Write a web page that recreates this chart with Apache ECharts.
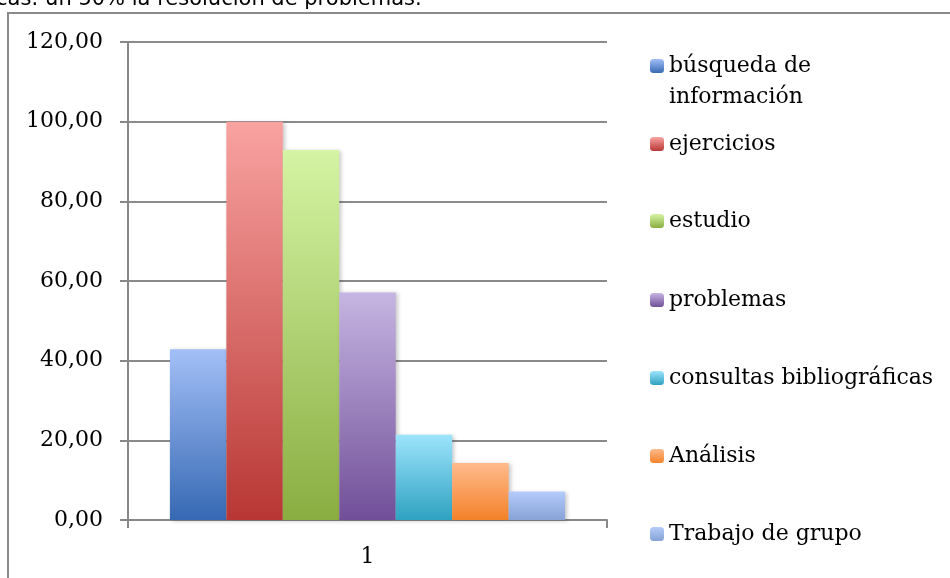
<!DOCTYPE html>
<html>
<head>
<meta charset="utf-8">
<script src="https://cdn.jsdelivr.net/npm/echarts@6/dist/echarts.min.js"></script>
<style>
  html, body { margin: 0; padding: 0; background: #fff; }
  #chart { width: 950px; height: 578px; }
</style>
</head>
<body>
<div id="chart"></div>
<script>
const categories = ['1']
const seriesNames = [
  'búsqueda de\ninformación',
  'ejercicios',
  'estudio',
  'problemas',
  'consultas bibliográficas',
  'Análisis',
  'Trabajo de grupo'
]
const seriesValues = [42.86, 100, 92.86, 57.14, 21.43, 14.29, 7.14]
const yTicks = { min: 0, max: 120, interval: 20 }

// top / bottom colours of each bar gradient
const colorsTop = ['#a3bff7', '#f9a3a1', '#d5f4a4', '#c6b5e2', '#9de4fc', '#ffba8c', '#b4ccfb']
const colorsBottom = ['#3669b3', '#b83734', '#8aad41', '#704f98', '#2ea2c1', '#f3822a', '#87a2d6']
const legendTops = [14.5, 123.5, 200.5, 279.5, 357.5, 435.5, 513.5]

const chart = echarts.init(document.getElementById('chart'))

const font = 'DejaVu Serif'

const series = seriesNames.map((name, i) => ({
  name: name,
  type: 'bar',
  barGap: '0%',
  barCategoryGap: '17.5%',
  data: [seriesValues[i]],
  itemStyle: {
    color: new echarts.graphic.LinearGradient(0, 0, 0, 1, [
      { offset: 0, color: colorsTop[i] },
      { offset: 1, color: colorsBottom[i] }
    ]),
    shadowColor: 'rgba(0,0,0,0.22)',
    shadowBlur: 4,
    shadowOffsetX: 2,
    shadowOffsetY: 1
  },
  emphasis: { disabled: true }
}))

// one legend per item so the spacing can follow the reference
const legends = seriesNames.map((name, i) => ({
  orient: 'vertical',
  left: 645,
  top: legendTops[i],
  itemWidth: 14,
  itemHeight: 14,
  itemGap: 0,
  data: [name],
  // leading blank line keeps the icon beside the first text line
  formatter: n => (n.indexOf('\n') >= 0 ? '\n' + n : n),
  textStyle: { fontFamily: font, fontSize: 22, color: '#000', lineHeight: 31 },
  selectedMode: false
}))

const option = {
  animation: false,
  grid: { left: 128, right: 343, top: 42, bottom: 58 },
  legend: legends,
  graphic: [
    {
      type: 'rect',
      shape: { x: 8, y: 13, width: 1000, height: 1000 },
      style: { fill: 'none', stroke: '#8a8a8a', lineWidth: 2 },
      z: -1
    },
    {
      type: 'text',
      left: -4,
      top: -11,
      style: {
        text: 'cas: un 50% la resolución de problemas.',
        fontFamily: 'DejaVu Sans',
        fontSize: 21,
        fill: '#000'
      }
    }
  ],
  xAxis: {
    type: 'category',
    data: categories,
    axisLine: { lineStyle: { color: '#888', width: 2 } },
    axisTick: { show: true, length: 8, lineStyle: { color: '#888', width: 2 } },
    axisLabel: { fontFamily: font, fontSize: 22, color: '#000', margin: 26 }
  },
  yAxis: {
    type: 'value',
    min: yTicks.min,
    max: yTicks.max,
    interval: yTicks.interval,
    axisLine: { show: true, lineStyle: { color: '#888', width: 2 } },
    axisTick: { show: true, length: 8, lineStyle: { color: '#888', width: 2 } },
    splitLine: { lineStyle: { color: '#8a8a8a', width: 2 } },
    axisLabel: {
      fontFamily: font,
      fontSize: 22,
      color: '#000',
      margin: 25,
      formatter: v => v.toFixed(2).replace('.', ',')
    }
  },
  series: series
}

chart.setOption(option)
</script>
</body>
</html>
